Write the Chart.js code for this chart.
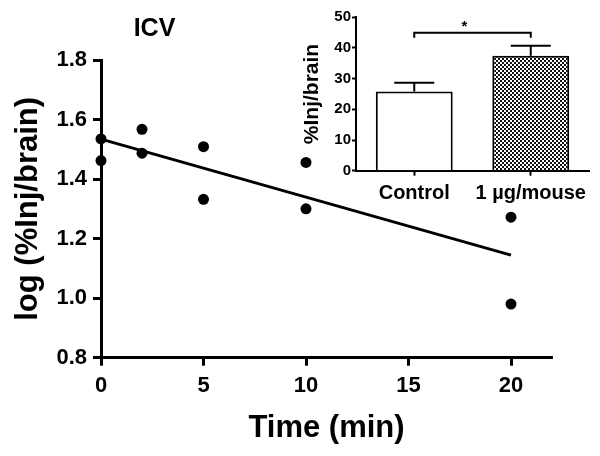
<!DOCTYPE html>
<html><head><meta charset="utf-8">
<script src="https://cdn.jsdelivr.net/npm/chart.js@4.4.1/dist/chart.umd.min.js"></script>
<style>
html,body{margin:0;padding:0;background:#fff;}
#wrap{position:relative;width:600px;height:456px;}
#main{position:absolute;left:0;top:0;}
#inset{position:absolute;left:300px;top:0;}
</style></head><body>
<div id="wrap"><canvas id="main" width="600" height="456"></canvas><canvas id="inset" width="300" height="215"></canvas></div>
<script>
// ---- main panel data ----
const panelTitle = 'ICV';
const timeMin = [0, 0, 2, 2, 5, 5, 10, 10, 20, 20];
const logInj  = [1.535, 1.462, 1.567, 1.487, 1.509, 1.332, 1.456, 1.300, 1.272, 0.980];
const xTickValues = [0, 5, 10, 15, 20];
const yTickValues = [0.8, 1.0, 1.2, 1.4, 1.6, 1.8];
const xTitle = 'Time (min)';
const yTitle = 'log (%Inj/brain)';

// ---- inset data ----
const insetCategories = ['Control', '1 µg/mouse'];
const insetMeans = [25.8, 37.5];
const insetSem = [2.9, 3.2];
const insetTickValues = [0, 10, 20, 30, 40, 50];
const insetYTitle = '%Inj/brain';
const sigBracketLevel = 45;
const sigLabel = '*';

const FONT = "'Liberation Sans', Arial, sans-serif";

// least-squares fit from the data
const n = timeMin.length;
const mx = timeMin.reduce((a, b) => a + b, 0) / n;
const my = logInj.reduce((a, b) => a + b, 0) / n;
let sxy = 0, sxx = 0;
for (let i = 0; i < n; i++) { sxy += (timeMin[i] - mx) * (logInj[i] - my); sxx += (timeMin[i] - mx) ** 2; }
const slope = sxy / sxx, intercept = my - slope * mx;
const fitX = [Math.min(...timeMin), Math.max(...timeMin)];
const fitPts = fitX.map(x => ({x: x, y: intercept + slope * x}));

const panelTitlePlugin = {
  id: 'panelTitle',
  afterDraw(chart) {
    const ctx = chart.ctx;
    ctx.save();
    ctx.font = 'bold 25px ' + FONT;
    ctx.fillStyle = '#000';
    ctx.textAlign = 'center';
    ctx.textBaseline = 'middle';
    ctx.fillText(panelTitle, 154.5, 29);
    ctx.restore();
  }
};

new Chart(document.getElementById('main'), {
  type: 'scatter',
  data: {
    datasets: [
      {label: 'data', data: timeMin.map((t, i) => ({x: t, y: logInj[i]})),
       pointRadius: 5.5, pointHoverRadius: 5.5, backgroundColor: '#000', borderColor: '#000', borderWidth: 0, clip: false},
      {label: 'fit', data: fitPts, showLine: true, pointRadius: 0, borderColor: '#000', borderWidth: 3, fill: false, clip: false}
    ]
  },
  options: {
    responsive: false, animation: false, devicePixelRatio: 1,
    layout: {padding: {top: 60, right: 48, bottom: 0, left: 0}},
    plugins: {legend: {display: false}, tooltip: {enabled: false}},
    scales: {
      x: {
        type: 'linear', min: 0, max: 22,
        afterBuildTicks: s => { s.ticks = xTickValues.map(v => ({value: v})); },
        afterFit: s => { s.height = 98.3; },
        border: {display: true, color: '#000', width: 3},
        grid: {display: true, drawOnChartArea: false, drawTicks: true, tickLength: 8, tickWidth: 3, tickColor: '#000'},
        ticks: {color: '#000', font: {family: FONT, size: 22, weight: 'bold'}, padding: 7, maxRotation: 0, autoSkip: false},
        title: {display: true, text: xTitle, color: '#000', font: {family: FONT, size: 31, weight: 'bold', lineHeight: 1}, padding: {top: 0, bottom: 12.5}}
      },
      y: {
        type: 'linear', min: 0.8, max: 1.8,
        afterBuildTicks: s => { s.ticks = yTickValues.map(v => ({value: v})); },
        afterFit: s => { s.width = 101; },
        border: {display: true, color: '#000', width: 3},
        grid: {display: true, drawOnChartArea: false, drawTicks: true, tickLength: 8, tickWidth: 3, tickColor: '#000'},
        ticks: {color: '#000', font: {family: FONT, size: 22, weight: 'bold'}, padding: 6, autoSkip: false,
                callback: v => Number(v).toFixed(1)},
        title: {display: true, text: yTitle, color: '#000', font: {family: FONT, size: 31, weight: 'bold', lineHeight: 1}, padding: {top: 12.5, bottom: 0}}
      }
    }
  },
  plugins: [panelTitlePlugin]
});

// ---- inset bar chart ----
const tile = document.createElement('canvas');
tile.width = 4; tile.height = 4;
const tc = tile.getContext('2d');
tc.fillStyle = '#fff'; tc.fillRect(0, 0, 4, 4);
tc.fillStyle = '#111'; tc.fillRect(0, 0, 2, 2); tc.fillRect(2, 2, 2, 2);
const checker = tc.createPattern(tile, 'repeat');

const insetAnnot = {
  id: 'insetAnnot',
  afterDatasetsDraw(chart) {
    const ctx = chart.ctx, meta = chart.getDatasetMeta(0), ys = chart.scales.y;
    ctx.save();
    ctx.strokeStyle = '#000'; ctx.fillStyle = '#000'; ctx.lineWidth = 2;
    meta.data.forEach((bar, i) => {
      const yTop = ys.getPixelForValue(insetMeans[i] + insetSem[i]);
      const yM = ys.getPixelForValue(insetMeans[i]);
      ctx.beginPath();
      ctx.moveTo(bar.x, yM); ctx.lineTo(bar.x, yTop);
      ctx.moveTo(bar.x - 20, yTop); ctx.lineTo(bar.x + 20, yTop);
      ctx.stroke();
    });
    const x0 = meta.data[0].x, x1 = meta.data[1].x;
    const yb = ys.getPixelForValue(sigBracketLevel);
    ctx.beginPath();
    ctx.moveTo(x0, yb + 5); ctx.lineTo(x0, yb); ctx.lineTo(x1, yb); ctx.lineTo(x1, yb + 5);
    ctx.stroke();
    ctx.font = 'bold 15px ' + FONT;
    ctx.textAlign = 'center';
    ctx.textBaseline = 'alphabetic';
    ctx.fillText(sigLabel, (x0 + x1) / 2 - 8, yb - 2);
    ctx.restore();
  }
};

new Chart(document.getElementById('inset'), {
  type: 'bar',
  data: {
    labels: insetCategories,
    datasets: [{data: insetMeans, backgroundColor: ['#fff', checker], borderColor: '#000', borderWidth: 2,
                categoryPercentage: 1, barPercentage: 0.66}]
  },
  options: {
    responsive: false, animation: false, devicePixelRatio: 1,
    layout: {padding: {top: 17.3, right: 11, bottom: 0, left: 0}},
    plugins: {legend: {display: false}, tooltip: {enabled: false}},
    scales: {
      x: {
        type: 'category',
        afterFit: s => { s.height = 44.3; },
        border: {display: true, color: '#000', width: 2},
        grid: {display: true, offset: false, drawOnChartArea: false, drawTicks: true, tickLength: 5, tickWidth: 2, tickColor: '#000'},
        ticks: {color: '#000', font: {family: FONT, size: 20, weight: 'bold'}, padding: 6, maxRotation: 0, autoSkip: false}
      },
      y: {
        type: 'linear', min: 0, max: 50,
        afterBuildTicks: s => { s.ticks = insetTickValues.map(v => ({value: v})); },
        afterFit: s => { s.width = 56; },
        border: {display: true, color: '#000', width: 2},
        grid: {display: true, drawOnChartArea: false, drawTicks: true, tickLength: 4, tickWidth: 2, tickColor: '#000'},
        ticks: {color: '#000', font: {family: FONT, size: 15, weight: 'bold'}, padding: 1, autoSkip: false},
        title: {display: true, text: insetYTitle, color: '#000', font: {family: FONT, size: 21, weight: 'bold', lineHeight: 1}, padding: {top: 2, bottom: 0}}
      }
    }
  },
  plugins: [insetAnnot]
});
</script>
</body></html>
